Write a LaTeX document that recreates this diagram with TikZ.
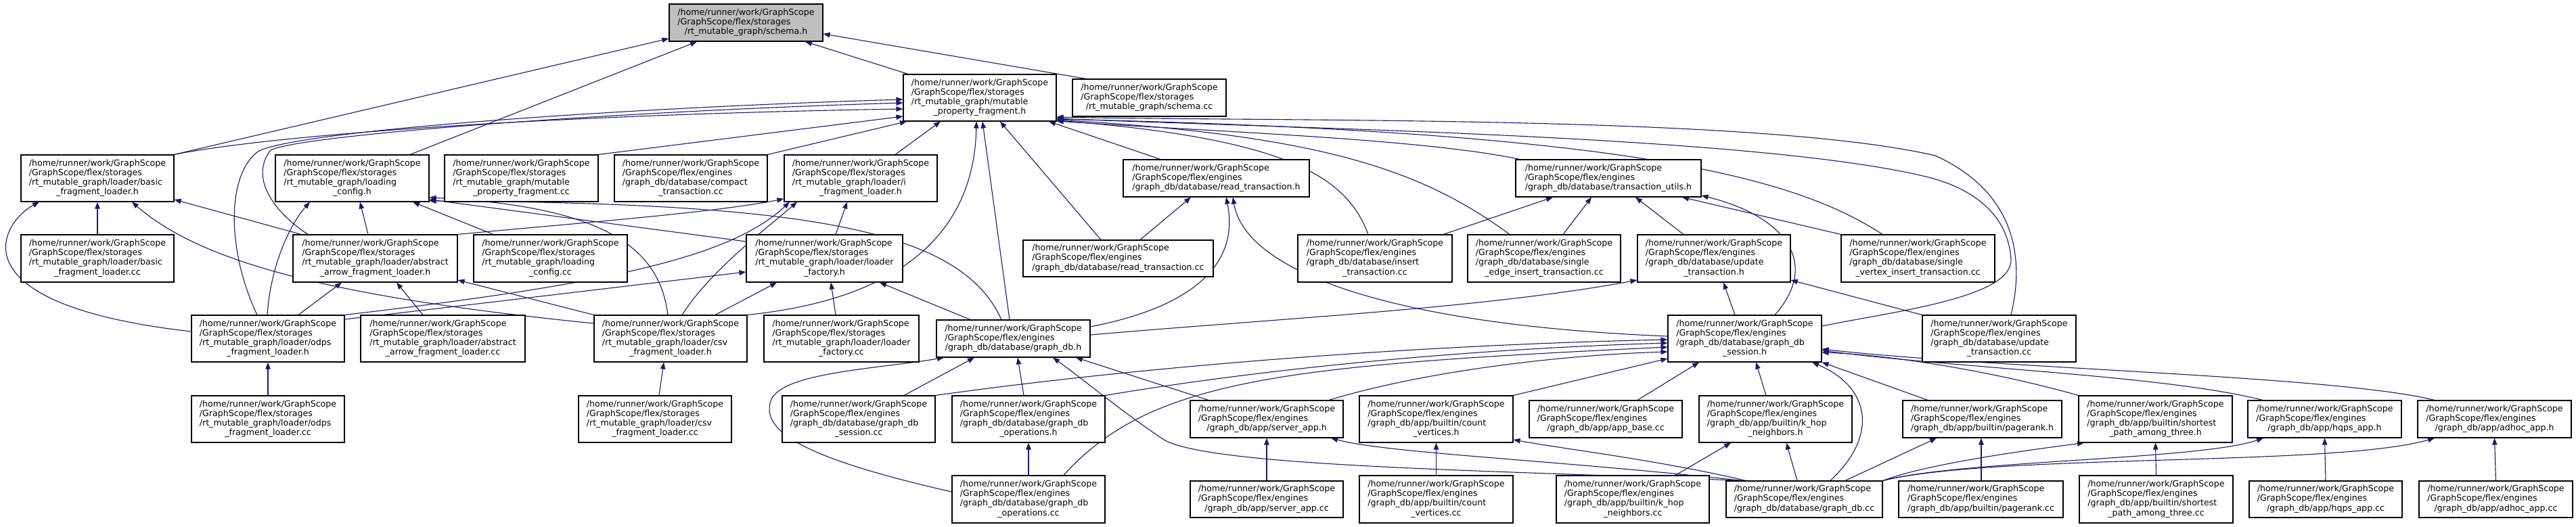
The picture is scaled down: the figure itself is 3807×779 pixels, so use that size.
\documentclass[tikz,border=0pt]{standalone}
\usepackage{fontspec}
\setmainfont{DejaVu Sans}
\usetikzlibrary{arrows.meta,backgrounds}
\definecolor{edgeblue}{HTML}{191970}
\definecolor{rootgray}{HTML}{BFBFBF}
\newcommand{\xHome}{/home/runner/work/GraphScope}
\newcommand{\xStor}{/GraphScope/flex/storages}
\newcommand{\xEng}{/GraphScope/flex/engines}
\newcommand{\LL}[2]{\begin{tabular}{@{}l@{}}#1\\\multicolumn{1}{@{}c@{}}{#2}\end{tabular}}
\tikzset{
  box/.style={draw=black, fill=white, line width=1.1pt, inner sep=0pt, font=\fontsize{12.6}{14.2}\selectfont},
  sz/.style 2 args={minimum width=#1pt, minimum height=#2pt},
  e/.style={draw=edgeblue, line width=1.1pt, -{Triangle[length=10pt,width=7.5pt]}}
}
\begin{document}
\begin{tikzpicture}[x=1pt,y=-1pt]
\useasboundingbox (0,0) rectangle (3807,779);
% row 0-1
\node[box,sz={227}{55},fill=rootgray] (schemah) at (1102.5,33.5) {\LL{\xHome\\\xStor}{/rt\_mutable\_graph/schema.h}};
\node[box,sz={226}{69}] (mpfh) at (1448,144.5) {\LL{\xHome\\\xStor\\/rt\_mutable\_graph/mutable}{\_property\_fragment.h}};
\node[box,sz={227}{55}] (schemacc) at (1698.5,144.5) {\LL{\xHome\\\xStor}{/rt\_mutable\_graph/schema.cc}};
% row 2
\node[box,sz={226}{69}] (bflh) at (144,263.5) {\LL{\xHome\\\xStor\\/rt\_mutable\_graph/loader/basic}{\_fragment\_loader.h}};
\node[box,sz={227}{69}] (lch) at (520.5,263.5) {\LL{\xHome\\\xStor\\/rt\_mutable\_graph/loading}{\_config.h}};
\node[box,sz={227}{69}] (mpfcc) at (770.5,263.5) {\LL{\xHome\\\xStor\\/rt\_mutable\_graph/mutable}{\_property\_fragment.cc}};
\node[box,sz={226}{69}] (compact) at (1021,263.5) {\LL{\xHome\\\xEng\\/graph\_db/database/compact}{\_transaction.cc}};
\node[box,sz={226}{69}] (iflh) at (1272,263.5) {\LL{\xHome\\\xStor\\/rt\_mutable\_graph/loader/i}{\_fragment\_loader.h}};
\node[box,sz={275}{55}] (rth) at (1797.5,263.5) {\LL{\xHome\\\xEng}{/graph\_db/database/read\_transaction.h}};
\node[box,sz={274}{55}] (tuh) at (2377,263.5) {\LL{\xHome\\\xEng}{/graph\_db/database/transaction\_utils.h}};
% row 3
\node[box,sz={226}{70}] (bflcc) at (144,382) {\LL{\xHome\\\xStor\\/rt\_mutable\_graph/loader/basic}{\_fragment\_loader.cc}};
\node[box,sz={243}{70}] (aaflh) at (554.5,382) {\LL{\xHome\\\xStor\\/rt\_mutable\_graph/loader/abstract}{\_arrow\_fragment\_loader.h}};
\node[box,sz={227}{70}] (lccc) at (813.5,382) {\LL{\xHome\\\xStor\\/rt\_mutable\_graph/loading}{\_config.cc}};
\node[box,sz={231}{70}] (lfh) at (1218.5,382) {\LL{\xHome\\\xStor\\/rt\_mutable\_graph/loader/loader}{\_factory.h}};
\node[box,sz={281}{54}] (rtcc) at (1652.5,382) {\LL{\xHome\\\xEng}{/graph\_db/database/read\_transaction.cc}};
\node[box,sz={228}{70}] (insertcc) at (2032,382) {\LL{\xHome\\\xEng\\/graph\_db/database/insert}{\_transaction.cc}};
\node[box,sz={226}{70}] (secc) at (2282,382) {\LL{\xHome\\\xEng\\/graph\_db/database/single}{\_edge\_insert\_transaction.cc}};
\node[box,sz={226}{70}] (updh) at (2533,382) {\LL{\xHome\\\xEng\\/graph\_db/database/update}{\_transaction.h}};
\node[box,sz={227}{70}] (svcc) at (2834.5,382) {\LL{\xHome\\\xEng\\/graph\_db/database/single}{\_vertex\_insert\_transaction.cc}};
% row 4
\node[box,sz={226}{69}] (odpsh) at (396,500.5) {\LL{\xHome\\\xStor\\/rt\_mutable\_graph/loader/odps}{\_fragment\_loader.h}};
\node[box,sz={243}{69}] (aaflcc) at (654.5,500.5) {\LL{\xHome\\\xStor\\/rt\_mutable\_graph/loader/abstract}{\_arrow\_fragment\_loader.cc}};
\node[box,sz={226}{69}] (csvh) at (991,500.5) {\LL{\xHome\\\xStor\\/rt\_mutable\_graph/loader/csv}{\_fragment\_loader.h}};
\node[box,sz={229}{69}] (lfcc) at (1243.5,500.5) {\LL{\xHome\\\xStor\\/rt\_mutable\_graph/loader/loader}{\_factory.cc}};
\node[box,sz={227}{55}] (gdbh) at (1497.5,500.5) {\LL{\xHome\\\xEng}{/graph\_db/database/graph\_db.h}};
\node[box,sz={227}{69}] (sessh) at (2578.5,500.5) {\LL{\xHome\\\xEng\\/graph\_db/database/graph\_db}{\_session.h}};
\node[box,sz={227}{69}] (updcc) at (2954.5,500.5) {\LL{\xHome\\\xEng\\/graph\_db/database/update}{\_transaction.cc}};
% row 5
\node[box,sz={226}{69}] (odpscc) at (396,619.5) {\LL{\xHome\\\xStor\\/rt\_mutable\_graph/loader/odps}{\_fragment\_loader.cc}};
\node[box,sz={226}{69}] (csvcc) at (968,619.5) {\LL{\xHome\\\xStor\\/rt\_mutable\_graph/loader/csv}{\_fragment\_loader.cc}};
\node[box,sz={226}{69}] (sesscc) at (1269,619.5) {\LL{\xHome\\\xEng\\/graph\_db/database/graph\_db}{\_session.cc}};
\node[box,sz={226}{69}] (opsh) at (1520,619.5) {\LL{\xHome\\\xEng\\/graph\_db/database/graph\_db}{\_operations.h}};
\node[box,sz={226}{55}] (serverh) at (1872,619.5) {\LL{\xHome\\\xEng}{/graph\_db/app/server\_app.h}};
\node[box,sz={227}{69}] (cvh) at (2122.5,619.5) {\LL{\xHome\\\xEng\\/graph\_db/app/builtin/count}{\_vertices.h}};
\node[box,sz={226}{55}] (appbase) at (2373,619.5) {\LL{\xHome\\\xEng}{/graph\_db/app/app\_base.cc}};
\node[box,sz={226}{69}] (khoph) at (2624,619.5) {\LL{\xHome\\\xEng\\/graph\_db/app/builtin/k\_hop}{\_neighbors.h}};
\node[box,sz={235}{55}] (prh) at (2929.5,619.5) {\LL{\xHome\\\xEng}{/graph\_db/app/builtin/pagerank.h}};
\node[box,sz={227}{69}] (spath) at (3185.5,619.5) {\LL{\xHome\\\xEng\\/graph\_db/app/builtin/shortest}{\_path\_among\_three.h}};
\node[box,sz={227}{55}] (hqpsh) at (3435.5,619.5) {\LL{\xHome\\\xEng}{/graph\_db/app/hqps\_app.h}};
\node[box,sz={227}{55}] (adhoch) at (3686.5,619.5) {\LL{\xHome\\\xEng}{/graph\_db/app/adhoc\_app.h}};
% row 6
\node[box,sz={226}{70}] (opscc) at (1520,738) {\LL{\xHome\\\xEng\\/graph\_db/database/graph\_db}{\_operations.cc}};
\node[box,sz={226}{54}] (servercc) at (1872,738) {\LL{\xHome\\\xEng}{/graph\_db/app/server\_app.cc}};
\node[box,sz={227}{70}] (cvcc) at (2122.5,738) {\LL{\xHome\\\xEng\\/graph\_db/app/builtin/count}{\_vertices.cc}};
\node[box,sz={226}{70}] (khopcc) at (2413,738) {\LL{\xHome\\\xEng\\/graph\_db/app/builtin/k\_hop}{\_neighbors.cc}};
\node[box,sz={231}{54}] (gdbcc) at (2666.5,738) {\LL{\xHome\\\xEng}{/graph\_db/database/graph\_db.cc}};
\node[box,sz={243}{54}] (prcc) at (2927.5,738) {\LL{\xHome\\\xEng}{/graph\_db/app/builtin/pagerank.cc}};
\node[box,sz={227}{70}] (spatcc) at (3186.5,738) {\LL{\xHome\\\xEng\\/graph\_db/app/builtin/shortest}{\_path\_among\_three.cc}};
\node[box,sz={226}{54}] (hqpscc) at (3437,738) {\LL{\xHome\\\xEng}{/graph\_db/app/hqps\_app.cc}};
\node[box,sz={227}{54}] (adhoccc) at (3688.5,738) {\LL{\xHome\\\xEng}{/graph\_db/app/adhoc\_app.cc}};

\begin{scope}[on background layer]
\fill[white] (0,0) rectangle (3807,779);
% to schema.h
\draw[e] (bflh.north east) -- (schemah.west |- 0,57);
\draw[e] (lch.north -| 606,0) -- (schemah.south -| 1030,0);
\draw[e] (mpfh.north -| 1342,0) -- (schemah.south -| 1190,0);
\draw[e] (schemacc.north -| 1605,0) -- (schemah.east |- 0,50);
% to mutable_property_fragment.h
\draw[e] (bflh.north east) .. controls (400,200) and (800,170) .. (mpfh.west |- 0,161);
\draw[e] (odpsh.north -| 380,0) .. controls (335,370) and (335,260) .. (380,225) .. controls (420,195) and (900,160) .. (mpfh.west |- 0,147);
\draw[e] (aaflh.north -| 455,0) .. controls (400,310) and (370,260) .. (400,222) .. controls (440,200) and (900,165) .. (mpfh.west |- 0,152);
\draw[e] (mpfcc.north east) -- (mpfh.west |- 0,172);
\draw[e] (compact.north east) -- (mpfh.south -| 1340,0);
\draw[e] (iflh.north -| 1323,0) -- (mpfh.south -| 1390,0);
\draw[e] (csvh.north east) .. controls (1350,440) and (1440,330) .. (mpfh.south -| 1443,0);
\draw[e] (gdbh.north -| 1492,0) -- (mpfh.south -| 1452,0);
\draw[e] (rtcc.north -| 1627,0) -- (mpfh.south -| 1478,0);
\draw[e] (rth.north -| 1715,0) -- (mpfh.south -| 1550,0);
\draw[e] (tuh.north -| 2246,0) .. controls (2100,205) and (1800,195) .. (mpfh.east |- 0,179);
\draw[e] (insertcc.north -| 2022,0) .. controls (1990,260) and (1900,205) .. (mpfh.east |- 0,178);
\draw[e] (secc.north -| 2231,0) .. controls (2100,250) and (1950,200) .. (mpfh.east |- 0,177);
\draw[e] (svcc.north -| 2782,0) .. controls (2650,260) and (2400,195) .. (mpfh.east |- 0,176);
\draw[e] (updcc.north -| 2972,0) .. controls (2995,370) and (2970,280) .. (2860,230) .. controls (2600,170) and (1900,180) .. (mpfh.east |- 0,173);
\draw[e] (sessh.east |- 0,482) .. controls (2800,460) and (2975,440) .. (2972,383) .. controls (2968,320) and (2920,280) .. (2850,262) .. controls (2600,200) and (1900,190) .. (mpfh.east |- 0,175);
% to loading_config.h
\draw[e] (odpsh.north -| 395,0) .. controls (400,390) and (430,330) .. (lch.south -| 458,0);
\draw[e] (aaflh.north -| 544,0) -- (lch.south -| 532,0);
\draw[e] (lccc.north -| 729,0) -- (lch.south -| 610,0);
\draw[e] (csvh.north -| 987,0) .. controls (975,370) and (900,305) .. (lch.east |- 0,292);
\draw[e] (lfh.west |- 0,357) -- (lch.east |- 0,295);
\draw[e] (gdbh.north -| 1480,0) .. controls (1420,340) and (1200,300) .. (lch.east |- 0,297);
% to basic_fragment_loader.h
\draw[e] (odpsh.west |- 0,490) .. controls (-70,450) and (0,330) .. (bflh.south -| 58,0);
\draw[e] (bflcc.north) -- (bflh.south);
\draw[e] (csvh.west |- 0,478) .. controls (500,440) and (300,390) .. (bflh.south -| 195,0);
\draw[e] (aaflh.north -| 445,0) -- (bflh.east |- 0,295);
% to abstract_arrow_fragment_loader.h
\draw[e] (odpsh.north -| 441,0) -- (aaflh.south -| 505,0);
\draw[e] (aaflcc.north -| 625,0) -- (aaflh.south -| 586,0);
\draw[e] (csvh.north west) -- (aaflh.east |- 0,414);
% to i_fragment_loader.h
\draw[e] (aaflh.north east) .. controls (850,330) and (1050,315) .. (iflh.west |- 0,294);
\draw[e] (odpsh.north east) .. controls (900,420) and (1080,380) .. (iflh.south -| 1167,0);
\draw[e] (csvh.north -| 1008,0) .. controls (1050,400) and (1130,340) .. (iflh.south -| 1178,0);
\draw[e] (lfh.north -| 1235,0) -- (iflh.south -| 1252,0);
% to loader_factory.h
\draw[e] (csvh.north -| 1057,0) -- (lfh.south -| 1148,0);
\draw[e] (lfcc.north -| 1235,0) -- (lfh.south -| 1228,0);
\draw[e] (odpsh.east |- 0,472) .. controls (700,450) and (950,420) .. (lfh.west |- 0,402);
\draw[e] (gdbh.north -| 1434,0) -- (lfh.south -| 1300,0);
% to read_transaction.h
\draw[e] (rtcc.north -| 1685,0) -- (rth.south -| 1760,0);
\draw[e] (gdbh.east |- 0,483) .. controls (1780,450) and (1830,380) .. (rth.south -| 1812,0);
\draw[e] (sessh.west |- 0,497) .. controls (2050,480) and (1840,400) .. (rth.south -| 1822,0);
% to transaction_utils.h
\draw[e] (insertcc.north -| 2133,0) -- (tuh.south -| 2295,0);
\draw[e] (secc.north -| 2310,0) -- (tuh.south -| 2352,0);
\draw[e] (updh.north -| 2488,0) -- (tuh.south -| 2417,0);
\draw[e] (svcc.north west) -- (tuh.south -| 2486,0);
\draw[e] (sessh.north -| 2623,0) .. controls (2690,390) and (2640,320) .. (tuh.east |- 0,289);
% to update_transaction.h
\draw[e] (gdbh.east |- 0,495) .. controls (1900,470) and (2200,455) .. (updh.west |- 0,414);
\draw[e] (sessh.north -| 2564,0) -- (updh.south -| 2547,0);
\draw[e] (updcc.north west) -- (updh.east |- 0,414);
% to graph_db.h
\draw[e] (opscc.west |- 0,727) .. controls (1200,680) and (1120,640) .. (1140,590) .. controls (1160,550) and (1300,545) .. (gdbh.south -| 1395,0);
\draw[e] (sesscc.north -| 1336,0) -- (gdbh.south -| 1440,0);
\draw[e] (opsh.north -| 1513,0) -- (gdbh.south -| 1504,0);
\draw[e] (gdbcc.north -| 2574,0) .. controls (2200,695) and (1790,690) .. (1720,650) .. controls (1660,610) and (1600,560) .. (gdbh.south -| 1556,0);
\draw[e] (serverh.north -| 1786,0) -- (gdbh.south -| 1590,0);
% to graph_db_session.h
\draw[e] (sesscc.north east) .. controls (1700,540) and (2100,510) .. (sessh.west |- 0,502);
\draw[e] (opsh.north east) .. controls (1900,540) and (2200,515) .. (sessh.west |- 0,507);
\draw[e] (opscc.north -| 1572,0) .. controls (1700,560) and (1900,540) .. (sessh.west |- 0,513);
\draw[e] (serverh.north -| 1964,0) .. controls (2100,550) and (2300,525) .. (sessh.west |- 0,520);
\draw[e] (cvh.north east) -- (sessh.west |- 0,530);
\draw[e] (appbase.north -| 2420,0) -- (sessh.south -| 2511,0);
\draw[e] (khoph.north -| 2610,0) -- (sessh.south -| 2595,0);
\draw[e] (gdbcc.north -| 2705,0) .. controls (2780,640) and (2760,570) .. (sessh.south -| 2678,0);
\draw[e] (prh.north -| 2849,0) -- (sessh.south east);
\draw[e] (spath.north west) .. controls (2950,550) and (2800,525) .. (sessh.east |- 0,521);
\draw[e] (hqpsh.north -| 3344,0) .. controls (3200,555) and (2900,545) .. (sessh.east |- 0,518);
\draw[e] (adhoch.north -| 3598,0) .. controls (3450,555) and (2950,545) .. (sessh.east |- 0,516);
% bottom rows
\draw[e] (servercc.north) -- (serverh.south);
\draw[e] (gdbcc.north -| 2574,0) .. controls (2300,680) and (2050,670) .. (serverh.south -| 1967,0);
\draw[e] (cvcc.north) -- (cvh.south);
\draw[e] (gdbcc.north -| 2580,0) .. controls (2450,680) and (2320,665) .. (cvh.east |- 0,650);
\draw[e] (khopcc.north -| 2476,0) -- (khoph.south -| 2558,0);
\draw[e] (gdbcc.north -| 2656,0) -- (khoph.south -| 2640,0);
\draw[e] (prcc.north -| 2928,0) -- (prh.south -| 2928,0);
\draw[e] (gdbcc.north -| 2727,0) -- (prh.south -| 2862,0);
\draw[e] (spatcc.north) -- (spath.south);
\draw[e] (gdbcc.north east) .. controls (2850,685) and (3000,665) .. (spath.south -| 3080,0);
\draw[e] (hqpscc.north) -- (hqpsh.south);
\draw[e] (gdbcc.north east) .. controls (2900,680) and (3250,680) .. (hqpsh.south -| 3345,0);
\draw[e] (adhoccc.north) -- (adhoch.south);
\draw[e] (gdbcc.north east) .. controls (2950,670) and (3450,690) .. (adhoch.south -| 3598,0);
\draw[e] (opscc.north) -- (opsh.south);
\draw[e] (odpscc.north) -- (odpsh.south);
\draw[e] (csvcc.north -| 974,0) -- (csvh.south -| 981,0);
\end{scope}
\end{tikzpicture}
\end{document}
